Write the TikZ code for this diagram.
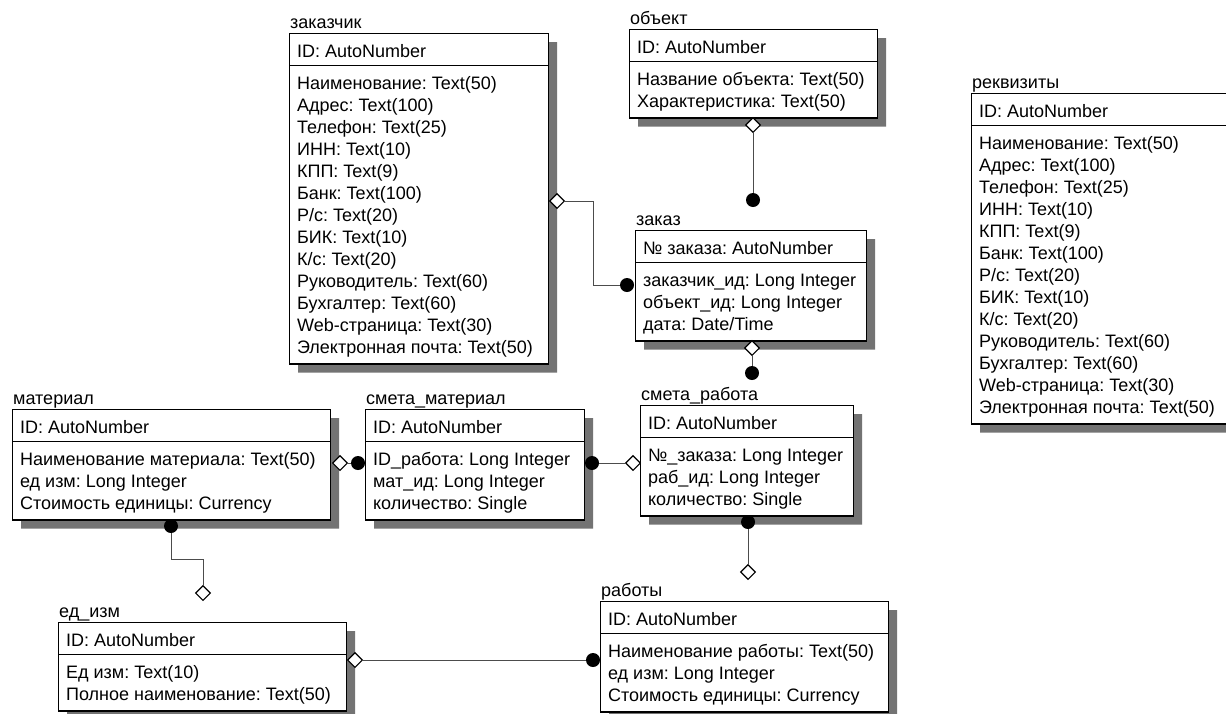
\documentclass[tikz,border=0pt]{standalone}
\usepackage{fontspec}
\setmainfont{Liberation Sans}
\usetikzlibrary{shapes.multipart, shapes.geometric, shadows, positioning}

\newcommand\hdstrut{\rule[-5pt]{0pt}{25pt}}
\newcommand\topstrut{\rule{0pt}{20pt}}
\newcommand\botstrut{\rule[-7pt]{0pt}{7pt}}

\tikzset{
  table/.style={rectangle split, rectangle split parts=2, rectangle split part align=left,
    draw, line width=1.2pt, fill=white, anchor=north west, minimum width=#1, align=left,
    inner xsep=7.5pt, inner ysep=3pt, font=\fontsize{18}{22}\selectfont\frenchspacing,
    drop shadow={shadow xshift=8.5pt, shadow yshift=-8.5pt, fill=black!55, opacity=1}},
  tname/.style={anchor=base west, inner sep=0pt, xshift=1pt, yshift=5pt, font=\fontsize{18}{22}\selectfont},
  pkdia/.style={diamond, draw, fill=white, line width=1.1pt, inner sep=0pt, aspect=1, minimum size=15pt},
  fkdot/.style={circle, fill=black, inner sep=0pt, minimum size=14pt},
  relline/.style={draw=black!70, line width=0.8pt}
}

\begin{document}
\begin{tikzpicture}[x=1pt, y=-1pt]
\useasboundingbox (0,0) rectangle (1226,713);

% tables
\node[table=259pt] (zakazchik) at (289,33) {\hdstrut ID: AutoNumber
  \nodepart{two}\topstrut Наименование: Text(50)\\ Адрес: Text(100)\\ Телефон: Text(25)\\ ИНН: Text(10)\\
  КПП: Text(9)\\ Банк: Text(100)\\ Р/с: Text(20)\\ БИК: Text(10)\\ К/с: Text(20)\\ Руководитель: Text(60)\\
  Бухгалтер: Text(60)\\ Web-страница: Text(30)\\ Электронная почта: Text(50)\botstrut};
\node[tname] (zakazchik-t) at (zakazchik.north west) {заказчик};

\node[table=248pt] (obekt) at (629,29) {\hdstrut ID: AutoNumber
  \nodepart{two}\topstrut Название объекта: Text(50)\\ Характеристика: Text(50)\botstrut};
\node[tname] (obekt-t) at (obekt.north west) {объект};

\node[table=231pt] (zakaz) at (635,230) {\hdstrut № заказа: AutoNumber
  \nodepart{two}\topstrut заказчик\_ид: Long Integer\\ объект\_ид: Long Integer\\ дата: Date/Time\botstrut};
\node[tname] (zakaz-t) at (zakaz.north west) {заказ};

\node[table=259pt] (rekv) at (971,93) {\hdstrut ID: AutoNumber
  \nodepart{two}\topstrut Наименование: Text(50)\\ Адрес: Text(100)\\ Телефон: Text(25)\\ ИНН: Text(10)\\
  КПП: Text(9)\\ Банк: Text(100)\\ Р/с: Text(20)\\ БИК: Text(10)\\ К/с: Text(20)\\ Руководитель: Text(60)\\
  Бухгалтер: Text(60)\\ Web-страница: Text(30)\\ Электронная почта: Text(50)\botstrut};
\node[tname] (rekv-t) at (rekv.north west) {реквизиты};

\node[table=318pt] (material) at (12,409) {\hdstrut ID: AutoNumber
  \nodepart{two}\topstrut Наименование материала: Text(50)\\ ед изм: Long Integer\\ Стоимость единицы: Currency\botstrut};
\node[tname] (material-t) at (material.north west) {материал};

\node[table=219pt] (smmat) at (365,409) {\hdstrut ID: AutoNumber
  \nodepart{two}\topstrut ID\_работа: Long Integer\\ мат\_ид: Long Integer\\ количество: Single\botstrut};
\node[tname] (smmat-t) at (smmat.north west) {смета\_материал};

\node[table=213pt] (smrab) at (640,405) {\hdstrut ID: AutoNumber
  \nodepart{two}\topstrut №\_заказа: Long Integer\\ раб\_ид: Long Integer\\ количество: Single\botstrut};
\node[tname] (smrab-t) at (smrab.north west) {смета\_работа};

\node[table=288pt] (edizm) at (58,622) {\hdstrut ID: AutoNumber
  \nodepart{two}\topstrut Ед изм: Text(10)\\ Полное наименование: Text(50)\botstrut};
\node[tname] (edizm-t) at (edizm.north west) {ед\_изм};

\node[table=288pt] (raboty) at (600,601) {\hdstrut ID: AutoNumber
  \nodepart{two}\topstrut Наименование работы: Text(50)\\ ед изм: Long Integer\\ Стоимость единицы: Currency\botstrut};
\node[tname] (raboty-t) at (raboty.north west) {работы};

% relation ends
\node[pkdia] (d-obekt) at (753,125) {};
\node[fkdot] (c-zakaz1) at (753,200) {};
\node[pkdia] (d-zakazchik) at (557,201) {};
\node[fkdot] (c-zakaz2) at (627,285) {};
\node[pkdia] (d-zakaz) at (752,348) {};
\node[fkdot] (c-smrab1) at (752,373) {};
\node[fkdot] (c-smmat1) at (592,463) {};
\node[pkdia] (d-smrab) at (633,463) {};
\node[pkdia] (d-material) at (340,463) {};
\node[fkdot] (c-smmat2) at (358,463) {};
\node[fkdot] (c-smrab2) at (748,522) {};
\node[pkdia] (d-raboty) at (748,572) {};
\node[fkdot] (c-material) at (171,526) {};
\node[pkdia] (d-edizm1) at (203,593) {};
\node[pkdia] (d-edizm2) at (355,660) {};
\node[fkdot] (c-raboty) at (593,660) {};

% relations
\draw[relline] (d-obekt) -- (c-zakaz1);
\draw[relline] (d-zakazchik.east) -- ++(28,0) |- (c-zakaz2.west);
\draw[relline] (d-zakaz) -- (c-smrab1);
\draw[relline] (c-smmat1) -- (d-smrab);
\draw[relline] (d-material) -- (c-smmat2);
\draw[relline] (c-smrab2) -- (d-raboty);
\draw[relline] (c-material.south) -- ++(0,26) -| (d-edizm1.north);
\draw[relline] (d-edizm2) -- (c-raboty);
\end{tikzpicture}
\end{document}
